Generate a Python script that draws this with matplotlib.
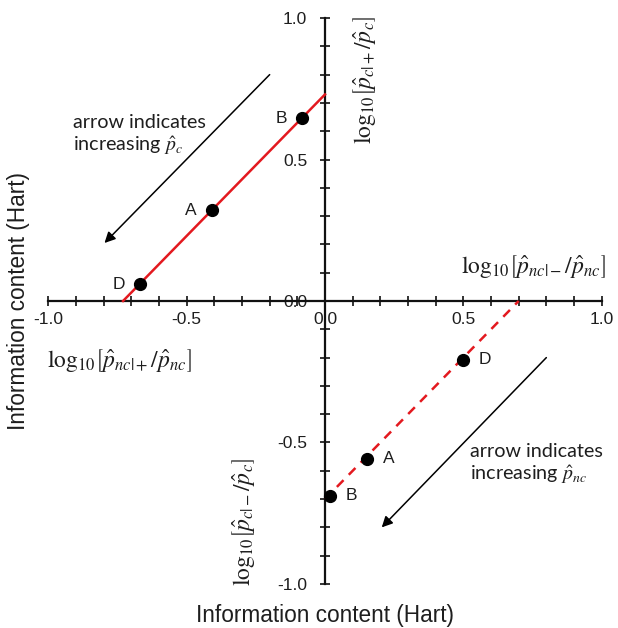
import matplotlib
matplotlib.use("Agg")
import matplotlib.pyplot as plt
from matplotlib.ticker import MultipleLocator, FormatStrFormatter

plt.rcParams['font.family'] = ['Liberation Sans', 'DejaVu Sans']
plt.rcParams['mathtext.fontset'] = 'stix'

# ---- data ----
upper_labels = ['B', 'A', 'D']
upper_x = [-0.083, -0.409, -0.669]
upper_y = [0.645, 0.321, 0.060]

lower_labels = ['D', 'A', 'B']
lower_x = [0.498, 0.151, 0.018]
lower_y = [-0.208, -0.557, -0.688]

solid_line_x = [-0.73, 0.0]
solid_line_y = [0.0, 0.73]
dashed_line_x = [0.0, 0.70]
dashed_line_y = [-0.70, 0.0]

arrow_upper = [(-0.20, 0.80), (-0.797, 0.205)]
arrow_lower = [(0.80, -0.20), (0.205, -0.80)]

RED = '#e3191f'
TXT = '#1e1e1e'

fig = plt.figure(figsize=(6.18, 6.28), dpi=100)
ax = fig.add_axes([0.0782, 0.0701, 0.8954, 0.9012])
ax.set_xlim(-1, 1)
ax.set_ylim(-1, 1)

for s in ['top', 'right']:
    ax.spines[s].set_visible(False)
ax.spines['left'].set_position('zero')
ax.spines['bottom'].set_position('zero')
for s in ['left', 'bottom']:
    ax.spines[s].set_linewidth(1.6)
    ax.spines[s].set_color('#111111')

ax.xaxis.set_major_locator(MultipleLocator(0.5))
ax.xaxis.set_minor_locator(MultipleLocator(0.1))
ax.yaxis.set_major_locator(MultipleLocator(0.5))
ax.yaxis.set_minor_locator(MultipleLocator(0.1))
ax.xaxis.set_major_formatter(FormatStrFormatter('%.1f'))
ax.yaxis.set_major_formatter(FormatStrFormatter('%.1f'))
ax.tick_params(which='both', direction='inout', length=7.5, width=1.2, color='#111111')
ax.tick_params(axis='x', which='major', labelsize=12.5, pad=4, labelcolor=TXT)
ax.tick_params(axis='y', which='major', labelsize=12.5, pad=9, labelcolor=TXT)

# lines
ax.plot(solid_line_x, solid_line_y, color=RED, lw=1.8, zorder=3)
ax.plot(dashed_line_x, dashed_line_y, color=RED, lw=1.8, dashes=(3.8, 3.0), zorder=3)

# points
ax.plot(upper_x, upper_y, 'o', color='black', ms=8.5, zorder=4)
ax.plot(lower_x, lower_y, 'o', color='black', ms=8.5, zorder=4)
for lab, x, y in zip(upper_labels, upper_x, upper_y):
    ax.annotate(lab, (x, y), xytext=(-11, 0), textcoords='offset points',
                ha='right', va='center', fontsize=12.5, color=TXT)
for lab, x, y in zip(lower_labels, lower_x, lower_y):
    ax.annotate(lab, (x, y), xytext=(11.5, 0), textcoords='offset points',
                ha='left', va='center', fontsize=12.5, color=TXT)

# arrows
for (start, end) in [arrow_upper, arrow_lower]:
    ax.annotate('', xy=end, xytext=start,
                arrowprops=dict(arrowstyle='-|>', color='black', lw=1.1,
                                mutation_scale=16, shrinkA=0, shrinkB=0))

ax.text(-0.911, 0.585, 'arrow indicates\nincreasing $\\hat{p}_c$', family='Lato',
        fontsize=14.2, ha='left', va='center', color=TXT, linespacing=1.2)
ax.text(0.524, -0.578, 'arrow indicates\nincreasing $\\hat{p}_{nc}$', family='Lato',
        fontsize=14.2, ha='left', va='center', color=TXT, linespacing=1.2)

# math axis labels
mfs = 17
ax.text(0.141, 0.783, r'$\log_{10}\!\left[\hat{p}_{c|+}/\hat{p}_c\right]$', rotation=90,
        ha='center', va='center', fontsize=mfs, color=TXT)
ax.text(1.013, 0.123, r'$\log_{10}\!\left[\hat{p}_{nc|-}/\hat{p}_{nc}\right]$',
        ha='right', va='center', fontsize=mfs, color=TXT)
ax.text(-1.005, -0.212, r'$\log_{10}\!\left[\hat{p}_{nc|+}/\hat{p}_{nc}\right]$',
        ha='left', va='center', fontsize=mfs, color=TXT)
ax.text(-0.295, -0.78, r'$\log_{10}\!\left[\hat{p}_{c|-}/\hat{p}_c\right]$', rotation=90,
        ha='center', va='center', fontsize=mfs, color=TXT)

ax.set_xlabel('Information content (Hart)', fontsize=16.3, color=TXT)
ax.set_ylabel('Information content (Hart)', fontsize=16.3, color=TXT)
ax.xaxis.set_label_coords(0.5, -0.035)
ax.yaxis.set_label_coords(-0.033, 0.5)

fig.savefig('out.png', dpi=100)
